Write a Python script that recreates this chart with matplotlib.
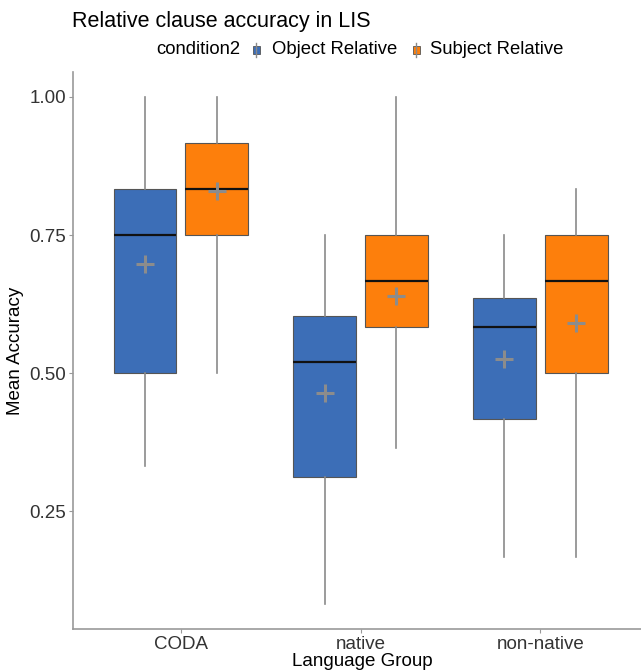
import matplotlib.pyplot as plt
from matplotlib.patches import Rectangle
from matplotlib.lines import Line2D

plt.rcParams['font.family'] = ['Liberation Sans', 'DejaVu Sans']

# data
groups = ["CODA", "native", "non-native"]
conditions = ["Object Relative", "Subject Relative"]
colors = ["#3c6eb7", "#fd7f0c"]

# per condition, per group
whislo = [[0.333, 0.083, 0.167], [0.500, 0.364, 0.167]]
q1 = [[0.500, 0.312, 0.417], [0.750, 0.583, 0.500]]
med = [[0.750, 0.520, 0.583], [0.833, 0.667, 0.667]]
q3 = [[0.833, 0.604, 0.636], [0.917, 0.750, 0.750]]
whishi = [[1.000, 0.750, 0.750], [1.000, 1.000, 0.833]]
means = [[0.697, 0.464, 0.525], [0.830, 0.639, 0.591]]

fig = plt.figure(figsize=(6.41, 6.70), dpi=100)
ax = fig.add_axes([0.114, 0.061, 0.897, 0.8315])

offsets = [-0.2, 0.2]
for c in range(2):
    stats = []
    for g in range(3):
        stats.append(dict(whislo=whislo[c][g], q1=q1[c][g], med=med[c][g],
                          q3=q3[c][g], whishi=whishi[c][g], fliers=[]))
    pos = [g + 1 + offsets[c] for g in range(3)]
    ax.bxp(stats, positions=pos, widths=0.35, patch_artist=True,
           showcaps=False, showfliers=False,
           boxprops=dict(facecolor=colors[c], edgecolor="#555555", linewidth=0.8),
           whiskerprops=dict(color="#8a8a8a", linewidth=1.2),
           medianprops=dict(color="#111111", linewidth=1.6))
    ax.plot(pos, means[c], linestyle="none", marker="+", markersize=13,
            markeredgewidth=2.2, color="#8c8c8c", zorder=5)

ax.set_xlim(0.4, 3.6)
ax.set_ylim(0.037, 1.045)
ax.set_xticks([1, 2, 3])
ax.set_xticklabels(groups)
ax.set_yticks([0.25, 0.5, 0.75, 1.0])
ax.set_yticklabels(["0.25", "0.50", "0.75", "1.00"])
ax.tick_params(labelsize=13.5, labelcolor="#333333", length=3, width=0.8,
               color="#999999", pad=2)
for s in ["top", "right"]:
    ax.spines[s].set_visible(False)
for s in ["left", "bottom"]:
    ax.spines[s].set_color("#999999")
    ax.spines[s].set_linewidth(1.2)

ax.set_ylabel("Mean Accuracy", fontsize=13.5, labelpad=4)
fig.text(362 / 641, 1 - 662 / 670, "Language Group", fontsize=13.5,
         ha="center", va="center")

fig.text(72 / 641, 1 - 21 / 670, "Relative clause accuracy in LIS",
         fontsize=15.5, ha="left", va="center")

# legend drawn along the top
ly = 1 - 50 / 670
fig.text(156 / 641, ly, "condition2", fontsize=13.3, ha="left", va="center")
for i, (cx, tx) in enumerate([(256, 272), (416, 430)]):
    fx = cx / 641
    fig.add_artist(Line2D([fx, fx], [ly - 7 / 670, ly + 7 / 670],
                          color="#8a8a8a", linewidth=1, transform=fig.transFigure))
    fig.add_artist(Rectangle((fx - 3.5 / 641, ly - 4 / 670), 7 / 641, 8 / 670,
                             facecolor=colors[i], edgecolor="#555555",
                             linewidth=0.6, transform=fig.transFigure))
    fig.text(tx / 641, ly, conditions[i], fontsize=13.3, ha="left", va="center")

fig.savefig("out.png", dpi=100)
